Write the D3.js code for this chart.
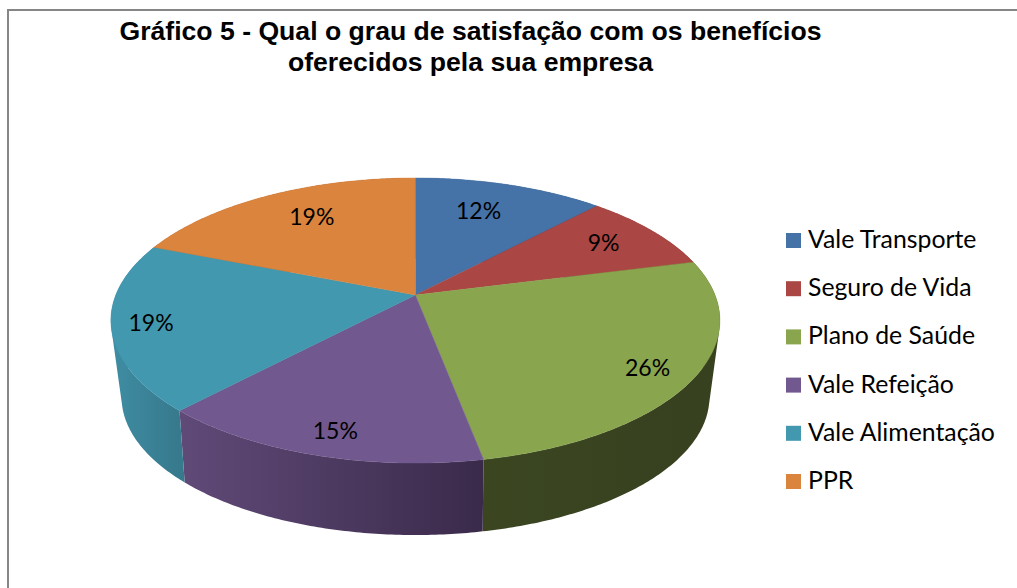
<!DOCTYPE html>
<html><head><meta charset="utf-8">
<script src="https://cdn.jsdelivr.net/npm/d3@7"></script>
<style>html,body{margin:0;padding:0;background:#fff}svg{display:block}</style>
</head><body><div id="chart"></div>
<script>
const categories = ["Vale Transporte","Seguro de Vida","Plano de Saúde","Vale Refeição","Vale Alimentação","PPR"];
const values = [12,9,26,15,19,19];
const colors = ["#4572a7","#aa4643","#89a54e","#71588f","#4198af","#db843d"];
const wallFrom = ["#3a5a85","#853735","#3b4621","#604a78","#3f8da3","#ad6930"];
const wallTo = ["#2c4566","#662a28","#37401f","#3a2a4a","#37798d","#85501f"];
const titleLines = ["Gráfico 5 - Qual o grau de satisfação com os benefícios","oferecidos pela sua empresa"];

const W=1017,H=588;
const top3d={cx:415.4,cy:295,a:299.6,b:138,k:0.179};
const low3d={cx:415.5,cy:369.4,a:288,b:132.5,k:0.2};
const labelR=[0.70,0.80,0.88,0.84,0.87,0.72];
const labelNudge=[[-6,-4],[-4,0],[-11,2],[2,6],[-1,1],[6,-4]];

const svg=d3.select("#chart").append("svg").attr("width",W).attr("height",H);
svg.append("rect").attr("width",W).attr("height",H).attr("fill","#fff");
svg.append("path").attr("d",`M8,${H}V10H${W}`).attr("fill","none").attr("stroke","#868686").attr("stroke-width",2);

const color=d3.scaleOrdinal(categories,colors);
const pie=d3.pie().sort(null).startAngle(0).endAngle(2*Math.PI);
const arcs=pie(values);
const proj=(m,t,r=1)=>{const u=r*Math.sin(t),v=-r*Math.cos(t),d=1-m.k*v;return [m.cx+m.a*u/d,m.cy+m.b*v/d];};
const line=d3.line();
const angles=a=>{const n=Math.max(8,Math.ceil((a.endAngle-a.startAngle)*90));
  return d3.range(n+1).map(i=>a.startAngle+(a.endAngle-a.startAngle)*i/n);};
const rim=(m,a)=>angles(a).map(t=>proj(m,t));
// one quad per angular step, all wound the same way so a single path fills without seams
const wallPath=a=>d3.pairs(angles(a)).map(([t0,t1])=>{
  const q=[proj(top3d,t0),proj(top3d,t1),proj(low3d,t1),proj(low3d,t0)];
  if(d3.polygonArea(q)<0) q.reverse();
  return line(q)+"Z";
}).join("");

const defs=svg.append("defs");
arcs.forEach((a,i)=>{
  const xs=d3.extent(rim(top3d,a),d=>d[0]);
  const g=defs.append("linearGradient").attr("id","w"+i).attr("gradientUnits","userSpaceOnUse")
    .attr("x1",xs[0]).attr("x2",xs[1]).attr("y1",0).attr("y2",0);
  g.append("stop").attr("offset",0).attr("stop-color",wallFrom[i]);
  g.append("stop").attr("offset",1).attr("stop-color",wallTo[i]);
});
svg.append("g").selectAll("path").data(arcs).join("path")
  .attr("d",wallPath).attr("fill-rule","nonzero").attr("fill",(a,i)=>`url(#w${i})`);
// top faces
svg.append("g").selectAll("path").data(arcs).join("path")
  .attr("d",a=>line([[top3d.cx,top3d.cy]].concat(rim(top3d,a)))+"Z")
  .attr("fill",(a,i)=>color(categories[i]))
  .attr("stroke",(a,i)=>color(categories[i])).attr("stroke-width",0.4);
// data labels
const lp=(a,i)=>{const p=proj(top3d,(a.startAngle+a.endAngle)/2,labelR[i]);return [p[0]+labelNudge[i][0],p[1]+labelNudge[i][1]+8];};
svg.append("g").selectAll("text").data(arcs).join("text")
  .attr("x",(a,i)=>lp(a,i)[0]).attr("y",(a,i)=>lp(a,i)[1])
  .attr("text-anchor","middle").attr("font-family","Lato, 'Open Sans', sans-serif")
  .attr("font-size",23).attr("fill","#000").text(a=>a.data+"%");
// title
svg.append("g").selectAll("text").data(titleLines).join("text")
  .attr("x",470.5).attr("y",(d,i)=>40+i*31).attr("text-anchor","middle")
  .attr("font-family","'Liberation Sans', Arial, sans-serif").attr("font-weight","bold")
  .attr("font-size",26.6).attr("fill","#000").text(d=>d);
// legend
const ly=d3.scalePoint().domain(categories).range([233,474]);
const lg=svg.append("g").selectAll("g").data(categories).join("g").attr("transform",d=>`translate(786,${ly(d)})`);
lg.append("rect").attr("width",15).attr("height",15).attr("fill",d=>color(d));
lg.append("text").attr("x",22).attr("y",15).attr("font-family","Lato, 'Open Sans', sans-serif")
  .attr("font-size",24.8).attr("fill","#000").text(d=>d);
</script></body></html>
